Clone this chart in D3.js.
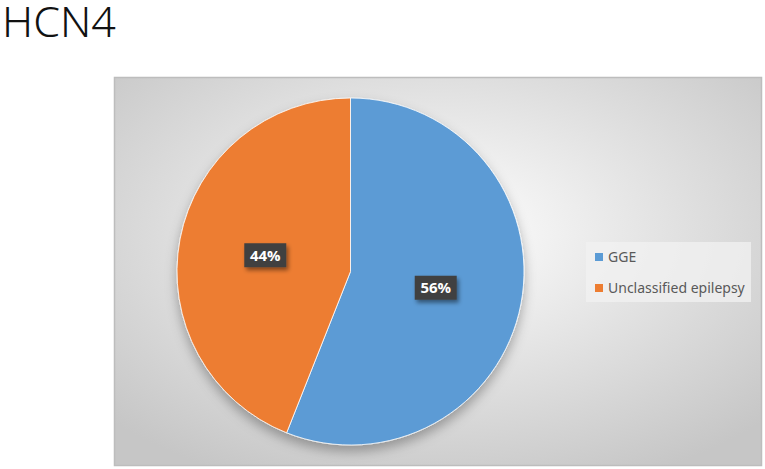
<!DOCTYPE html>
<html>
<head>
<meta charset="utf-8">
<script src="https://cdn.jsdelivr.net/npm/d3@7"></script>
<style>
  body { margin: 0; background: #fff; }
  svg { display: block; }
</style>
</head>
<body>
<div id="chart"></div>
<script>
const width = 765;
const height = 469;

const categories = ["GGE", "Unclassified epilepsy"];
const values = [56, 44];
const colors = ["#5b9bd5", "#ed7d31"];

const svg = d3.select("#chart")
  .append("svg")
  .attr("width", width)
  .attr("height", height);

const defs = svg.append("defs");

// plot area background, light in the middle, grey at the edges
const grad = defs.append("radialGradient")
  .attr("id", "bg")
  .attr("cx", "0.5").attr("cy", "0.4").attr("r", "0.7");
grad.append("stop").attr("offset", "0%").attr("stop-color", "#ffffff");
grad.append("stop").attr("offset", "100%").attr("stop-color", "#c6c6c6");

const shadow = defs.append("filter")
  .attr("id", "shadow")
  .attr("x", "-20%").attr("y", "-20%").attr("width", "140%").attr("height", "150%");
shadow.append("feDropShadow")
  .attr("dx", 0).attr("dy", 6).attr("stdDeviation", 6)
  .attr("flood-color", "#000").attr("flood-opacity", 0.3);

const labelShadow = defs.append("filter")
  .attr("id", "lshadow")
  .attr("x", "-30%").attr("y", "-30%").attr("width", "170%").attr("height", "180%");
labelShadow.append("feDropShadow")
  .attr("dx", 2).attr("dy", 3).attr("stdDeviation", 2)
  .attr("flood-color", "#000").attr("flood-opacity", 0.45);

// title
svg.append("text")
  .attr("x", 2)
  .attr("y", 37)
  .attr("font-family", "'Noto Sans', 'Open Sans', sans-serif")
  .attr("font-weight", 300)
  .attr("font-size", 43)
  .attr("fill", "#111")
  .text("HCN4");

// plot box
const box = { x: 114.5, y: 77.5, w: 647, h: 388 };
svg.append("rect")
  .attr("x", box.x).attr("y", box.y)
  .attr("width", box.w).attr("height", box.h)
  .attr("fill", "url(#bg)")
  .attr("stroke", "#bdbdbd")
  .attr("stroke-width", 1.5);

const cx = 350.5, cy = 271.5, radius = 173.5;

const pie = d3.pie().sort(null).value(d => d)(values);
const arc = d3.arc().innerRadius(0).outerRadius(radius);

const g = svg.append("g").attr("transform", `translate(${cx},${cy})`);

g.append("g")
  .attr("filter", "url(#shadow)")
  .selectAll("path")
  .data(pie)
  .join("path")
  .attr("d", arc)
  .attr("fill", (d, i) => colors[i])
  .attr("stroke", "#fff")
  .attr("stroke-width", 0.8);

// data labels in dark boxes
const lbl = g.selectAll(".lbl")
  .data(pie)
  .join("g")
  .attr("class", "lbl")
  .attr("transform", d => `translate(${arc.centroid(d)})`);

lbl.append("rect")
  .attr("x", -21).attr("y", -12)
  .attr("width", 42).attr("height", 24)
  .attr("fill", "#404040")
  .attr("filter", "url(#lshadow)");

lbl.append("text")
  .attr("text-anchor", "middle")
  .attr("dy", "0.36em")
  .attr("font-family", "'Open Sans', 'Noto Sans', sans-serif")
  .attr("font-weight", "bold")
  .attr("font-size", 15)
  .attr("fill", "#fff")
  .text(d => d.data + "%");

// legend
const legend = svg.append("g");
legend.append("rect")
  .attr("x", 586).attr("y", 242)
  .attr("width", 165).attr("height", 60)
  .attr("fill", "#f2f2f2")
  .attr("opacity", 0.75);

const item = legend.selectAll(".item")
  .data(categories)
  .join("g")
  .attr("class", "item")
  .attr("transform", (d, i) => `translate(595,${257 + i * 31})`);

item.append("rect")
  .attr("x", 0).attr("y", -4)
  .attr("width", 8).attr("height", 8)
  .attr("fill", (d, i) => colors[i]);

item.append("text")
  .attr("x", 13)
  .attr("dy", "0.35em")
  .attr("font-family", "'Noto Sans', 'Open Sans', sans-serif")
  .attr("font-size", 14)
  .attr("fill", "#595959")
  .text(d => d);
</script>
</body>
</html>
